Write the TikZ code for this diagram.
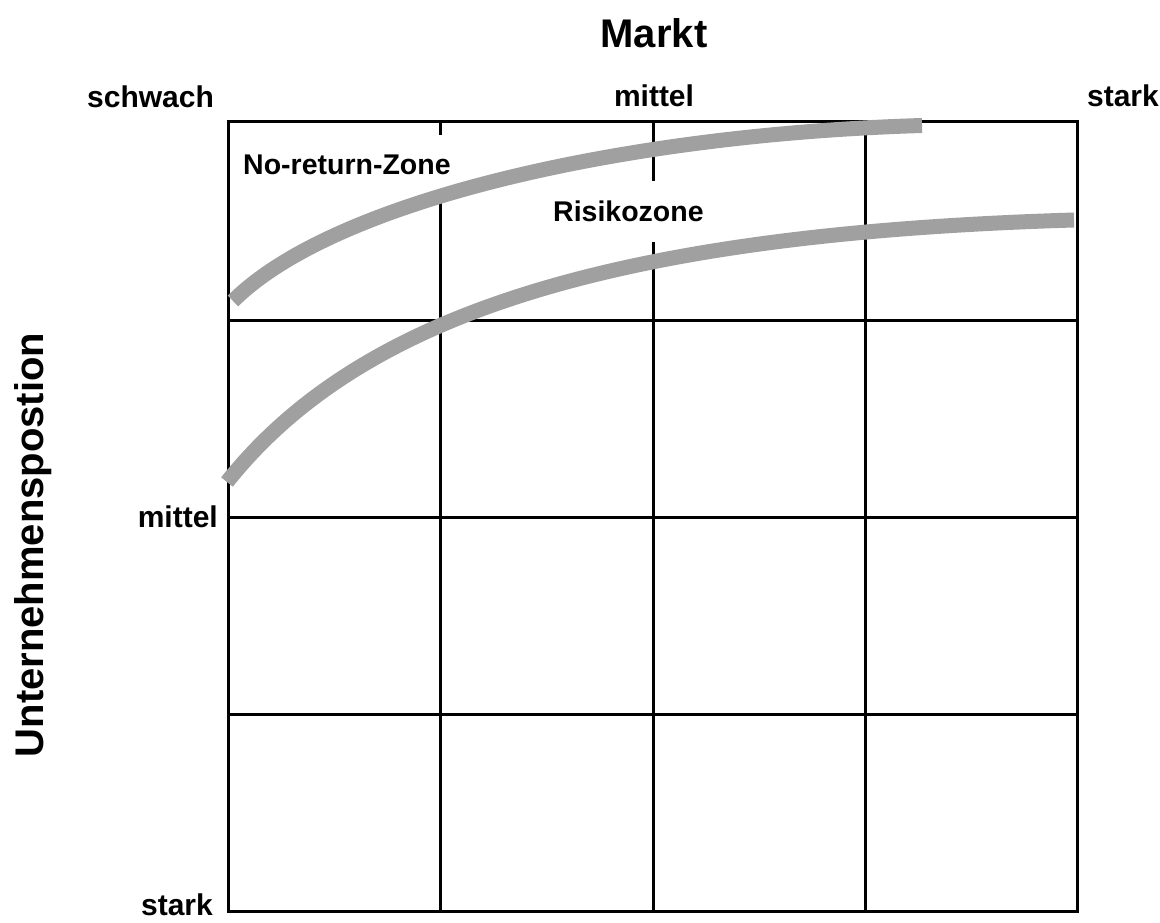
\documentclass[tikz,border=0pt]{standalone}
\usepackage{fontspec}
\setmainfont{Liberation Sans}
\definecolor{zonegray}{RGB}{160,160,160}
\begin{document}
\begin{tikzpicture}[x=1pt,y=-1pt,
  gridline/.style={line width=3pt,black},
  axislabel/.style={font=\bfseries\fontsize{30}{36}\selectfont,inner sep=0pt},
  titlelabel/.style={font=\bfseries\fontsize{40}{48}\selectfont,inner sep=0pt},
  zonelabel/.style={font=\bfseries\fontsize{28.5}{34}\selectfont,fill=white,inner xsep=8pt,inner ysep=20pt},
  zonecurve/.style={line width=15pt,zonegray}]
\useasboundingbox (0,0) rectangle (1160,923);

% grid of the portfolio matrix
\foreach \x in {440,653,865}
  \draw[gridline] (\x,122) -- (\x,911);
\foreach \y in {320,517,714}
  \draw[gridline] (228,\y) -- (1077,\y);
\draw[gridline] (228,122) rectangle (1077,911);

% axis titles
\node[titlelabel,anchor=base] (markt) at (654,48) {Markt};
\node[titlelabel,anchor=base,rotate=90] (position) at (43,545) {Unternehmenspostion};

% horizontal scale
\node[axislabel,anchor=base west] (mschwach) at (87,108) {schwach};
\node[axislabel,anchor=base] (mmittel) at (654,107) {mittel};
\node[axislabel,anchor=base east] (mstark) at (1159,107) {stark};

% vertical scale
\node[axislabel,anchor=base east] (umittel) at (218,527) {mittel};
\node[axislabel,anchor=base east] (ustark) at (213,915) {stark};

% zone labels (opaque, they interrupt the grid lines)
\node[zonelabel,anchor=base west] (noreturn) at (235,175) {No-return-Zone};
\node[zonelabel,anchor=base west] (risiko) at (545,222) {Risikozone};

% zone boundaries
\coordinate (nrA) at (233,301);
\coordinate (nrB) at (922,125.5);
\coordinate (rzA) at (227,482);
\coordinate (rzB) at (1074,220);
\draw[zonecurve] (nrA) .. controls (333,201) and (622,134.5) .. (nrB);
\draw[zonecurve] (rzA) .. controls (363.4,310.4) and (624,233.5) .. (rzB);
\end{tikzpicture}
\end{document}
